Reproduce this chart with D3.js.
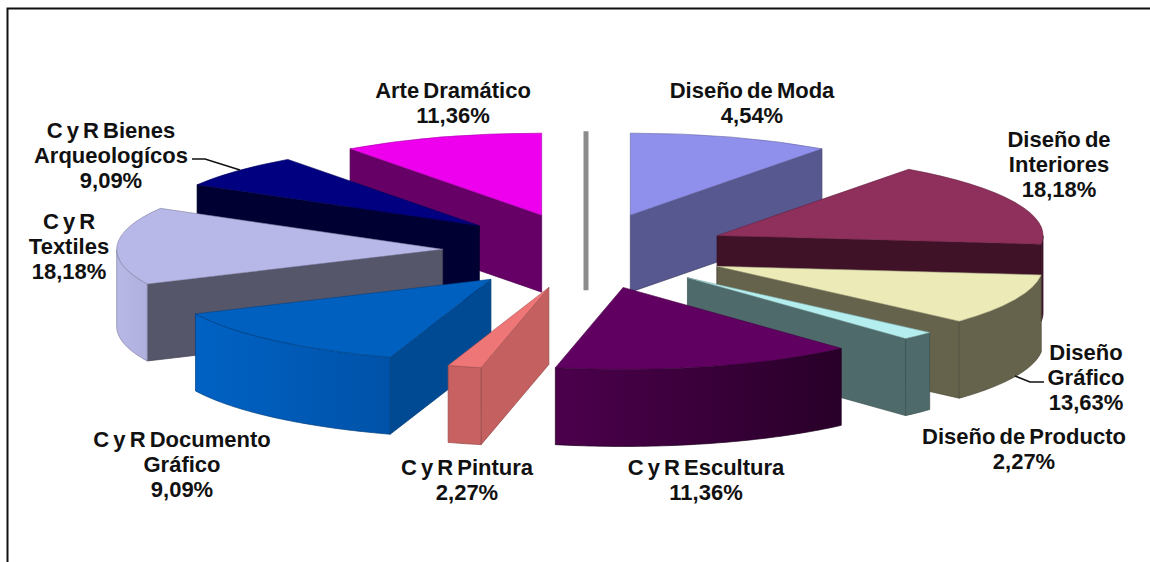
<!DOCTYPE html>
<html>
<head>
<meta charset="utf-8">
<script src="https://cdn.jsdelivr.net/npm/d3@7"></script>
<style>
  html, body { margin: 0; padding: 0; background: #fff; overflow: hidden; }
  text { font-family: "Liberation Sans", Arial, sans-serif; font-weight: bold; font-size: 22px; fill: #111; text-anchor: middle; word-spacing: -2px; }
</style>
</head>
<body>
<div id="chart"></div>
<script>
// labels as printed on the picture
const categories = ['Diseño de Moda', 'Diseño de Interiores', 'Diseño Gráfico', 'Diseño de Producto',
  'C y R Escultura', 'C y R Pintura', 'C y R Documento Gráfico', 'C y R Textiles',
  'C y R Bienes Arqueologícos', 'Arte Dramático']
const labelValues = ['4,54%', '18,18%', '13,63%', '2,27%', '11,36%', '2,27%', '9,09%', '18,18%', '9,09%', '11,36%']

// the wedges on the picture do not follow the printed percentages,
// so the sweep (degrees) is read from the drawing itself. last one is the empty grey slice
const sweeps = [36, 60, 36, 6, 54, 6, 47, 55, 24, 36, 0]

// [top, radial wall, outer wall left, outer wall right]
const palette = [
  ['#8f8fec', '#585890', '#585890', '#585890'],
  ['#8f2f5c', '#401228', '#4a1530', '#401228'],
  ['#ecebb8', '#66634c', '#66634c', '#66634c'],
  ['#b4eeee', '#4f6a6b', '#4f6a6b', '#4f6a6b'],
  ['#600060', '#4a004a', '#4c004c', '#280028'],
  ['#ee7676', '#c46060', '#c86262', '#c86262'],
  ['#0060c0', '#004a94', '#0062c4', '#0052a8'],
  ['#b8b8e8', '#55566a', '#b8b8e6', '#b0b0de'],
  ['#000080', '#000033', '#000033', '#000033'],
  ['#ee00ee', '#660066', '#660066', '#660066'],
  ['#8c8c8c', '#8c8c8c', '#8c8c8c', '#8c8c8c']
]

// label blocks: centre x, first baseline, lines
const labelSpots = [
  [752, 98, ['Diseño de Moda']],
  [1059, 147, ['Diseño de', 'Interiores']],
  [1086, 360, ['Diseño', 'Gráfico']],
  [1024, 444, ['Diseño de Producto']],
  [706, 475, ['C y R Escultura']],
  [467, 475, ['C y R Pintura']],
  [182, 447, ['C y R Documento', 'Gráfico']],
  [69, 229, ['C y R', 'Textiles']],
  [111, 138, ['C y R Bienes', 'Arqueologícos']],
  [453, 98, ['Arte Dramático']]
]

const cx = 586
const cy = 251
const rx = 326
const ry = 82
const depth = 77
const explodeX = 0.44
const explodeY = 0.46
const rad = Math.PI / 180

const svg = d3.select('#chart').append('svg').attr('width', 1150).attr('height', 562)
const defs = svg.append('defs')

// frame, only top and left are on the picture
svg.append('path')
  .attr('d', 'M7.5,562V8.5H1150')
  .attr('fill', 'none')
  .attr('stroke', '#111')
  .attr('stroke-width', 2)

const xScale = d3.scaleLinear().domain([-1, 1]).range([cx - rx, cx + rx])
const yScale = d3.scaleLinear().domain([-1, 1]).range([cy + ry, cy - ry])

const pie = d3.pie().sort(null).value((d) => d)
const slices = pie(sweeps).map((s, i) => {
  const mid = s.value === 0 ? 0 : (s.startAngle + s.endAngle) / 2
  return { ...s, i, mid, ox: explodeX * Math.sin(mid), oy: explodeY * Math.cos(mid) }
})

const edge = (s, a) => [xScale(s.ox + Math.sin(a)), yScale(s.oy + Math.cos(a))]
const apex = (s) => [xScale(s.ox), yScale(s.oy)]
const line = d3.line()
const arc = d3.arc().innerRadius(0).outerRadius(1000)

function wall(g, s, a, fill) {
  const p = apex(s)
  const q = edge(s, a)
  g.append('path')
    .attr('d', line([p, q, [q[0], q[1] + depth], [p[0], p[1] + depth]]) + 'Z')
    .attr('fill', fill)
    .attr('stroke', s.value === 0 ? fill : d3.color(fill).darker(0.8))
    .attr('stroke-width', s.value === 0 ? 5 : 0.7)
}

// back to front
const order = slices.slice().sort((a, b) => b.oy - a.oy)

order.forEach((s) => {
  const g = svg.append('g')
  const [top, side, outerL, outerR] = palette[s.i]

  if (s.value === 0) {
    wall(g, s, 0, side)
    return
  }

  if (Math.sin(s.startAngle) < 0) wall(g, s, s.startAngle, side)
  if (Math.sin(s.endAngle) > 0) wall(g, s, s.endAngle, side)

  // outer rim, only the part turned to the viewer
  const from = Math.max(s.startAngle, 90 * rad)
  const to = Math.min(s.endAngle, 270 * rad)
  if (to > from) {
    const angles = d3.range(from, to, 1 * rad).concat([to])
    const upper = angles.map((a) => edge(s, a))
    const lower = upper.slice().reverse().map((p) => [p[0], p[1] + depth])
    const id = 'rim' + s.i
    const grad = defs.append('linearGradient').attr('id', id)
    grad.append('stop').attr('offset', 0).attr('stop-color', outerL)
    grad.append('stop').attr('offset', 1).attr('stop-color', outerR)
    g.append('path')
      .attr('d', line(upper.concat(lower)) + 'Z')
      .attr('fill', `url(#${id})`)
      .attr('stroke', d3.color(outerR).darker(0.8))
      .attr('stroke-width', 0.7)
  }

  const p = apex(s)
  g.append('path')
    .attr('d', arc(s))
    .attr('transform', `translate(${p[0]},${p[1]}) scale(${rx / 1000},${ry / 1000})`)
    .attr('fill', top)
    .attr('stroke', d3.color(top).darker(1))
    .attr('stroke-width', 0.6)
    .attr('vector-effect', 'non-scaling-stroke')
})

// leader lines
const leaders = [
  [[192, 159], [205, 159], [240, 170]],
  [[1044, 382], [1030, 382], [1015, 376]]
]
svg.selectAll('path.leader')
  .data(leaders)
  .enter()
  .append('path')
  .attr('class', 'leader')
  .attr('d', (d) => line(d))
  .attr('fill', 'none')
  .attr('stroke', '#111')
  .attr('stroke-width', 1.5)

// labels
labelSpots.forEach((spot, i) => {
  const lines = spot[2].concat([labelValues[i]])
  const t = svg.append('text').attr('x', spot[0]).attr('y', spot[1])
  lines.forEach((txt, k) => {
    t.append('tspan').attr('x', spot[0]).attr('dy', k ? 25 : 0).text(txt)
  })
})
</script>
</body>
</html>
